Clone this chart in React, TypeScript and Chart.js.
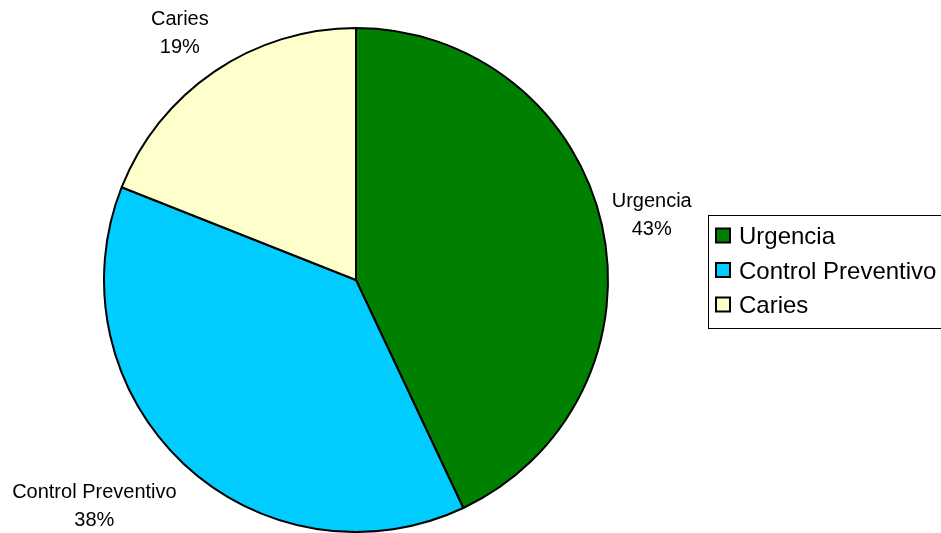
import React, { useEffect, useRef } from "react";
import { Chart, registerables } from "chart.js";

Chart.register(...registerables);

const categories = ["Urgencia", "Control Preventivo", "Caries"];
const values = [43, 38, 19];
const colors = ["#008000", "#00CCFF", "#FFFFCC"];

const FONT = '"Liberation Sans", Arial, sans-serif';

const labelPlugin = {
  id: "excelLabels",
  afterDraw(chart: any) {
    const ctx = chart.ctx;
    const meta = chart.getDatasetMeta(0);
    const total = values.reduce((a, b) => a + b, 0);
    ctx.save();
    ctx.fillStyle = "#000";
    ctx.font = `20px ${FONT}`;
    ctx.textAlign = "center";
    ctx.textBaseline = "middle";
    meta.data.forEach((arc: any, i: number) => {
      const { x, y, startAngle, endAngle, outerRadius } = arc.getProps(
        ["x", "y", "startAngle", "endAngle", "outerRadius"],
        true
      );
      const mid = (startAngle + endAngle) / 2;
      const dx = Math.cos(mid);
      const dy = Math.sin(mid);
      const l1 = categories[i];
      const l2 = Math.round((values[i] / total) * 100) + "%";
      const w = Math.max(ctx.measureText(l1).width, ctx.measureText(l2).width);
      const cx = x + dx * (outerRadius + 10) + Math.sign(dx) * w / 2;
      const cy = y + dy * (outerRadius + 52) + 6.5 * Math.abs(dy);
      ctx.fillText(l1, cx, cy - 14);
      ctx.fillText(l2, cx, cy + 14);
    });

    // legend
    ctx.lineWidth = 1;
    ctx.strokeStyle = "#000";
    ctx.strokeRect(708.5, 215.5, 260, 113);
    ctx.font = `24px ${FONT}`;
    ctx.textAlign = "left";
    ctx.textBaseline = "alphabetic";
    categories.forEach((c, i) => {
      const capCenter = 235.5 + i * 34.5;
      ctx.fillStyle = colors[i];
      ctx.fillRect(716, capCenter - 7, 14, 14);
      ctx.lineWidth = 2;
      ctx.strokeStyle = "#000";
      ctx.strokeRect(716, capCenter - 7, 14, 14);
      ctx.fillStyle = "#000";
      ctx.fillText(c, 739, capCenter + 8.6);
    });
    ctx.restore();
  },
};

export default function App() {
  const ref = useRef<HTMLCanvasElement>(null);
  useEffect(() => {
    if (!ref.current) return;
    const chart = new Chart(ref.current, {
      type: "pie",
      data: {
        labels: categories,
        datasets: [
          {
            data: values,
            backgroundColor: colors,
            borderColor: "#000",
            borderWidth: 2,
            borderAlign: "center",
          },
        ],
      },
      options: {
        animation: false,
        responsive: false,
        devicePixelRatio: 1,
        layout: { padding: { left: 103, right: 332, top: 27, bottom: 0 } },
        plugins: {
          legend: { display: false },
          tooltip: { enabled: false },
        },
      },
      plugins: [labelPlugin],
    });
    return () => chart.destroy();
  }, []);
  return (
    <div style={{ position: "absolute", left: 0, top: 0, width: 941, height: 533, background: "#fff" }}>
      <canvas ref={ref} width={941} height={533} style={{ width: 941, height: 533 }} />
    </div>
  );
}
